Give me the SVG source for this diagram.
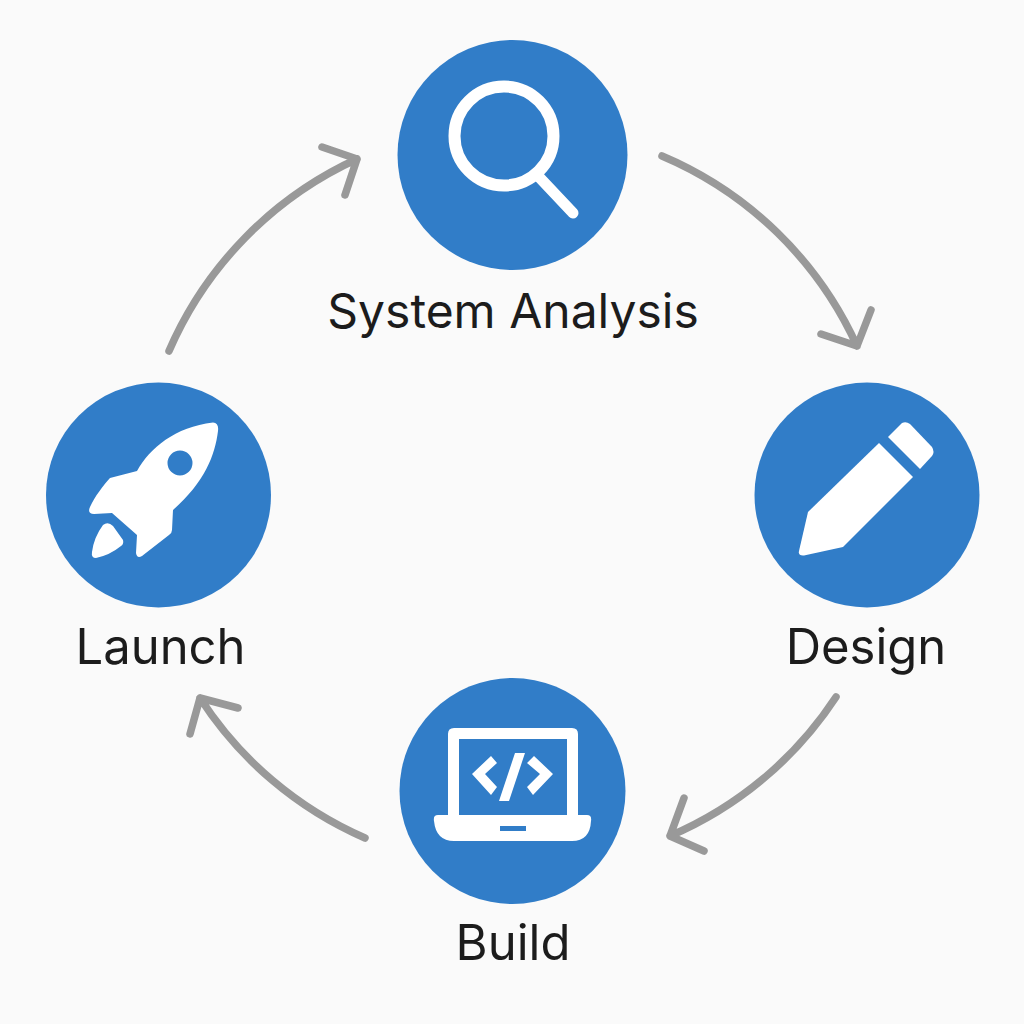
<svg xmlns="http://www.w3.org/2000/svg" width="1024" height="1024" viewBox="0 0 1024 1024">
<style>
.disc{fill:#317dc8}
.ico{fill:#fff}
.lbl{font-family:"Inter","Liberation Sans",sans-serif;font-size:49px;fill:#1c1c1c;text-anchor:middle}
.arr{fill:none;stroke:#999;stroke-width:7.500;stroke-linecap:round;stroke-linejoin:round}
</style>
<rect width="1024" height="1024" fill="#fafafa"/>
<g id="connectors" class="arr">
<path d="M662 156A375 375 0 0 1 857 346M821 334L857 346L871 310"/>
<path d="M836 697A375 375 0 0 1 670 836M684 798L670 836L704 851"/>
<path d="M365 838A375 375 0 0 1 200 698M238 708L200 698L190 734"/>
<path d="M169 351A375 375 0 0 1 357 159M322 147L357 159L345 195"/>
</g>
<g id="system-analysis">
<circle class="disc" cx="512.500" cy="155" r="115"/>
<circle cx="504" cy="136" r="49.500" fill="none" stroke="#fff" stroke-width="12"/>
<path d="M540 178L573 213" fill="none" stroke="#fff" stroke-width="11" stroke-linecap="round"/>
<text class="lbl" x="513" y="328" style="font-size:48px">System Analysis</text>
</g>
<g id="design">
<circle class="disc" cx="867" cy="495" r="112.500"/>
<path class="ico" d="M879 443L913 477L843 547L804 555.500Q798 556 799 551L808 512Z"/>
<path class="ico" d="M888 437L902 423Q906 421 910 424L932 447Q935 452 932 456L920 469Z"/>
<text class="lbl" x="866" y="664">Design</text>
</g>
<g id="build">
<circle class="disc" cx="512.500" cy="791" r="113"/>
<path class="ico" fill-rule="evenodd" d="M448 815V734Q448 728 454 728H572Q578 728 578 734V815H587Q592 815 591 821Q590 841 572 841H454Q436 841 434 821Q433 815 438 815ZM459 739V815H567V739ZM500 826V831H526V826Z"/>
<path class="ico" d="M491 756L497 763L485 774L497 787L491 795L472 774ZM534 756L527 763L540 774L527 787L533 795L553 774ZM515 753H525L509 801H499Z"/>
<text class="lbl" x="513" y="960">Build</text>
</g>
<g id="launch">
<circle class="disc" cx="158.500" cy="495" r="112.500"/>
<path class="ico" fill-rule="evenodd" d="M213 422.500Q219 423 218 431C215 455 205 482 173 510L172 530Q172 533 169 535L142 556Q137 559 136 553L137 535L112 513L94 514Q87 514 90 507C95 496 103 486 110 478L137 471C150 448 175 427 213 422.500ZM180 463m-12.500 0a12.500 12.500 0 1 0 25 0a12.500 12.500 0 1 0 -25 0Z"/>
<path class="ico" d="M103 525Q108 521 113 526L123 540Q124 544 121 546Q110 555 96 558Q91 558 92 552Q94 537 103 525Z"/>
<text class="lbl" x="160.500" y="664">Launch</text>
</g>
</svg>
